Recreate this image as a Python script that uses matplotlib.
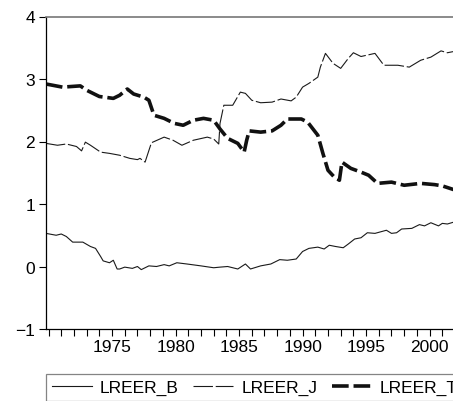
import matplotlib

matplotlib.use("Agg")
import matplotlib.pyplot as plt

# readings taken off the reference chart (decimal year, log REER)
B_YEARS = [1969.8, 1970.6, 1971.0, 1971.4, 1971.9, 1972.7, 1973.3, 1973.7, 1974.1, 1974.3,
           1974.8, 1975.1, 1975.4, 1975.6, 1976.0, 1976.6, 1977.0, 1977.3, 1977.9, 1978.5,
           1979.1, 1979.5, 1980.1, 1980.9, 1982.0, 1983.0, 1983.5, 1984.1, 1984.9, 1985.5,
           1985.9, 1986.7, 1987.5, 1988.2, 1988.8, 1989.5, 1990.0, 1990.5, 1991.2, 1991.7,
           1992.1, 1992.6, 1993.2, 1993.6, 1994.1, 1994.6, 1995.1, 1995.7, 1996.6, 1997.0,
           1997.4, 1997.8, 1998.6, 1999.2, 1999.6, 2000.1, 2000.7, 2001.0, 2001.4, 2001.9]
LREER_B = [0.53, 0.50, 0.52, 0.48, 0.39, 0.39, 0.32, 0.29, 0.16, 0.09,
           0.06, 0.10, -0.04, -0.04, -0.01, -0.03, 0.00, -0.05, 0.01, 0.00,
           0.03, 0.01, 0.06, 0.04, 0.01, -0.02, -0.01, 0.00, -0.04, 0.04,
           -0.04, 0.01, 0.04, 0.11, 0.10, 0.12, 0.24, 0.29, 0.31, 0.28,
           0.34, 0.32, 0.30, 0.36, 0.44, 0.46, 0.54, 0.53, 0.58, 0.53,
           0.54, 0.60, 0.61, 0.67, 0.65, 0.70, 0.65, 0.69, 0.68, 0.71]

J_YEARS = [1969.8, 1970.7, 1971.4, 1972.2, 1972.6, 1972.9, 1973.3, 1974.1, 1974.8, 1975.6,
           1976.4, 1977.0, 1977.2, 1977.6, 1978.1, 1979.1, 1979.8, 1980.5, 1981.4, 1982.5,
           1983.0, 1983.4, 1983.5, 1983.8, 1984.5, 1985.1, 1985.5, 1986.0, 1986.7, 1987.6,
           1988.3, 1989.1, 1989.5, 1990.0, 1990.5, 1991.2, 1991.4, 1991.8, 1992.4, 1993.0,
           1993.6, 1994.0, 1994.6, 1995.7, 1996.4, 1997.5, 1998.4, 1999.3, 2000.1, 2000.9,
           2001.4, 2001.9]
LREER_J = [1.97, 1.94, 1.96, 1.92, 1.85, 1.99, 1.94, 1.83, 1.81, 1.78,
           1.73, 1.71, 1.73, 1.67, 1.98, 2.07, 2.02, 1.94, 2.02, 2.07,
           2.04, 1.96, 2.29, 2.58, 2.58, 2.79, 2.77, 2.66, 2.62, 2.63,
           2.68, 2.65, 2.71, 2.87, 2.93, 3.03, 3.19, 3.41, 3.25, 3.17,
           3.33, 3.42, 3.36, 3.41, 3.22, 3.22, 3.19, 3.30, 3.35, 3.45,
           3.42, 3.44]

T_YEARS = [1969.8, 1971.1, 1972.5, 1973.0, 1974.0, 1975.1, 1975.6, 1976.2, 1976.7, 1977.5,
           1977.9, 1978.3, 1979.1, 1979.9, 1980.6, 1981.4, 1982.2, 1983.0, 1983.5, 1984.1,
           1984.9, 1985.4, 1985.6, 1985.8, 1986.7, 1987.6, 1988.3, 1988.8, 1989.9, 1990.4,
           1991.2, 1991.6, 1992.0, 1992.5, 1992.9, 1993.1, 1993.8, 1994.6, 1995.2, 1995.9,
           1997.0, 1998.0, 1999.3, 2000.4, 2001.0, 2001.9]
LREER_T = [2.92, 2.87, 2.89, 2.82, 2.72, 2.69, 2.74, 2.84, 2.76, 2.71,
           2.66, 2.42, 2.37, 2.29, 2.26, 2.34, 2.37, 2.34, 2.20, 2.05,
           1.97, 1.83, 2.02, 2.17, 2.15, 2.17, 2.26, 2.36, 2.36, 2.31,
           2.10, 1.81, 1.54, 1.43, 1.38, 1.67, 1.57, 1.51, 1.46, 1.33,
           1.35, 1.30, 1.33, 1.31, 1.29, 1.23]

SERIES_NAMES = ["LREER_B", "LREER_J", "LREER_T"]
MAJOR_YEARS = [1975, 1980, 1985, 1990, 1995, 2000]
Y_TICKS = [-1, 0, 1, 2, 3, 4]

W, H = 453, 402


def apply_style() -> None:
    plt.rcParams.update(
        {
            "font.family": ["Liberation Sans", "DejaVu Sans"],
            "font.size": 12.5,
            "lines.scale_dashes": False,
            "xtick.direction": "out",
            "ytick.direction": "out",
        }
    )


def main() -> None:
    apply_style()
    fig = plt.figure(figsize=(W / 100, H / 100), dpi=100)
    # axes run a little past the right edge, as in the cropped reference
    left, top, bottom, right = 46, 17.5, 330, 455
    ax = fig.add_axes([left / W, 1 - bottom / H, (right - left) / W, (bottom - top) / H])

    ax.plot(B_YEARS, LREER_B, color="#1a1a1a", linewidth=0.8, label=SERIES_NAMES[0])
    ax.plot(J_YEARS, LREER_J, color="#1a1a1a", linewidth=0.8, dashes=(14, 2), label=SERIES_NAMES[1])
    ax.plot(T_YEARS, LREER_T, color="#111111", linewidth=2.6, dashes=(12, 3.5), label=SERIES_NAMES[2])

    ax.set_xlim(1969.8, 2002.0)
    ax.set_ylim(-1, 4)
    ax.set_xticks(MAJOR_YEARS)
    ax.set_xticks(range(1970, 2002), minor=True)
    ax.set_yticks(Y_TICKS)
    ax.tick_params(axis="x", which="both", length=5, width=0.8, pad=2)
    ax.tick_params(axis="y", length=5, width=0.8, pad=3)

    ax.spines["right"].set_visible(False)
    ax.spines["top"].set_color("#777777")
    ax.spines["top"].set_linewidth(1.2)
    ax.spines["left"].set_linewidth(0.9)
    ax.spines["bottom"].set_linewidth(0.9)

    leg = fig.legend(
        loc="upper left",
        bbox_to_anchor=(46 / W, 1 - 375 / H),
        ncol=3,
        frameon=True,
        fancybox=False,
        handlelength=2.3,
        handletextpad=0.45,
        columnspacing=0.85,
        borderpad=0.35,
        borderaxespad=0,
    )
    leg.get_frame().set_edgecolor("#666666")
    leg.get_frame().set_linewidth(0.9)

    fig.savefig("out.png", dpi=100)
    plt.close(fig)


if __name__ == "__main__":
    main()
